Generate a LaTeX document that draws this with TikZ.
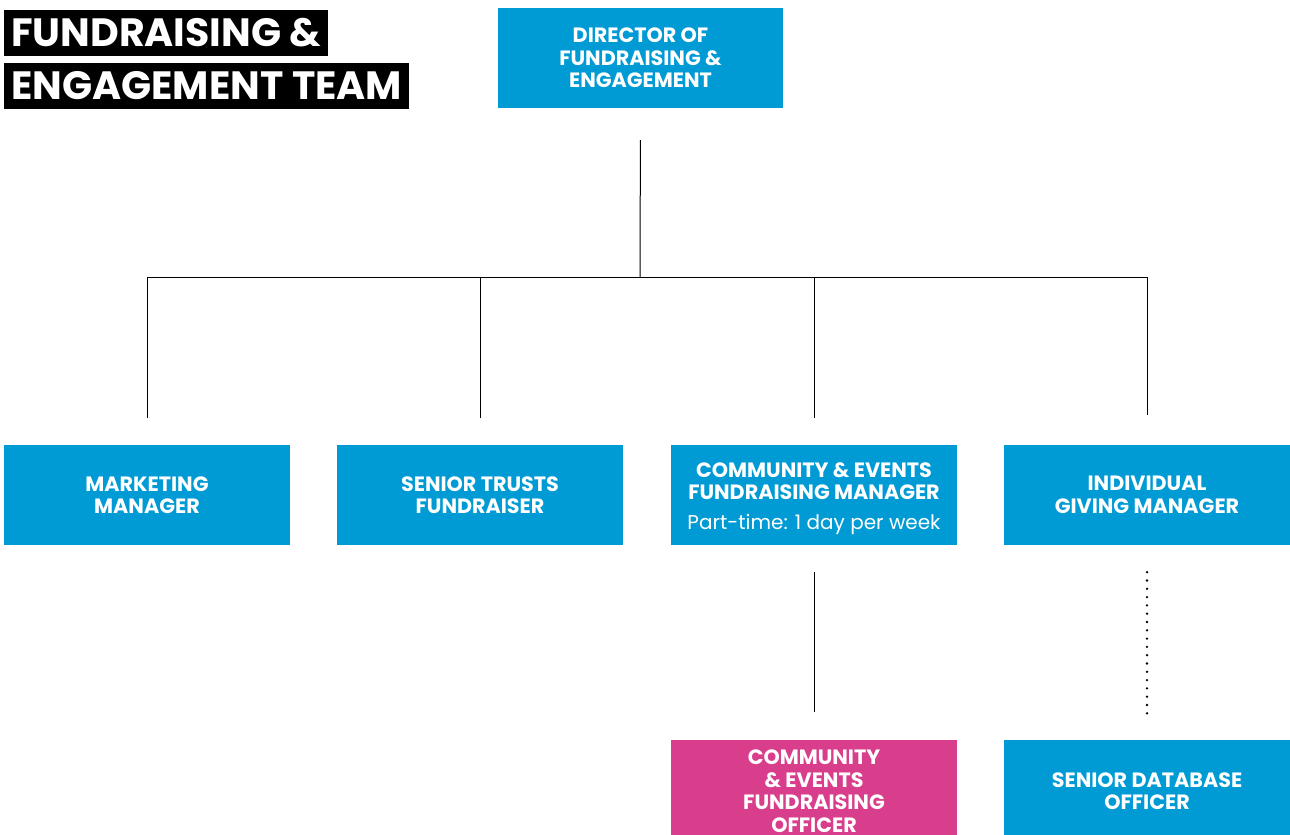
\documentclass[tikz,border=0pt]{standalone}
\usepackage{fontspec}
\setmainfont{Poppins}
\definecolor{boxblue}{RGB}{0,155,213}
\definecolor{boxpink}{RGB}{217,62,140}
\begin{document}
\begin{tikzpicture}[x=1pt,y=-1pt,
  role/.style={rectangle, fill=boxblue, text=white, minimum width=286pt, minimum height=100pt,
    inner sep=0pt, align=center, font=\bfseries\fontsize{20.7}{22.5}\selectfont},
  titlebox/.style={rectangle, fill=black, text=white, anchor=west, minimum height=46pt,
    inner xsep=7pt, inner ysep=0pt, font=\bfseries\fontsize{39.5}{39.5}\selectfont},
  conn/.style={draw=black, line width=1pt},
  dots/.style={draw=black, line width=2.6pt, line cap=round, dash pattern=on 0pt off 8.3pt}]
\useasboundingbox (0,0) rectangle (1290,835);
\node[titlebox] (t1) at (4,33) {FUNDRAISING \&};
\node[titlebox] (t2) at (4,86) {ENGAGEMENT TEAM};
\node[role, minimum width=285pt] (dir) at (640.5,58) {DIRECTOR OF\\FUNDRAISING \&\\ENGAGEMENT};
\node[role] (mm) at (147,495) {MARKETING\\MANAGER};
\node[role] (st) at (480,495) {SENIOR TRUSTS\\FUNDRAISER};
\node[role] (ce) at (814,495) {\rule{0pt}{22pt}COMMUNITY \& EVENTS\\FUNDRAISING MANAGER\\[7pt]{\mdseries\fontsize{20}{22}\selectfont Part-time: 1 day per week}};
\node[role] (ig) at (1147,495) {INDIVIDUAL\\GIVING MANAGER};
\node[role, fill=boxpink, minimum height=102pt] (ceo) at (814,791) {COMMUNITY\\\& EVENTS\\FUNDRAISING\\OFFICER};
\node[role, minimum height=102pt] (sdb) at (1147,791) {SENIOR DATABASE\\OFFICER};
\coordinate (bus) at (640,277);
\draw[conn, shorten <=32pt] (dir.south) -- (bus);
\draw[conn, shorten >=27pt] (bus) -| (mm.north);
\draw[conn, shorten >=27pt] (bus) -| (st.north);
\draw[conn, shorten >=27pt] (bus) -| (ce.north);
\draw[conn, shorten >=30pt] (bus) -| (ig.north);
\draw[conn, shorten <=27pt, shorten >=28pt] (ce.south) -- (ceo.north);
\draw[dots, shorten <=27pt, shorten >=25pt] (ig.south) -- (sdb.north);
\end{tikzpicture}
\end{document}
